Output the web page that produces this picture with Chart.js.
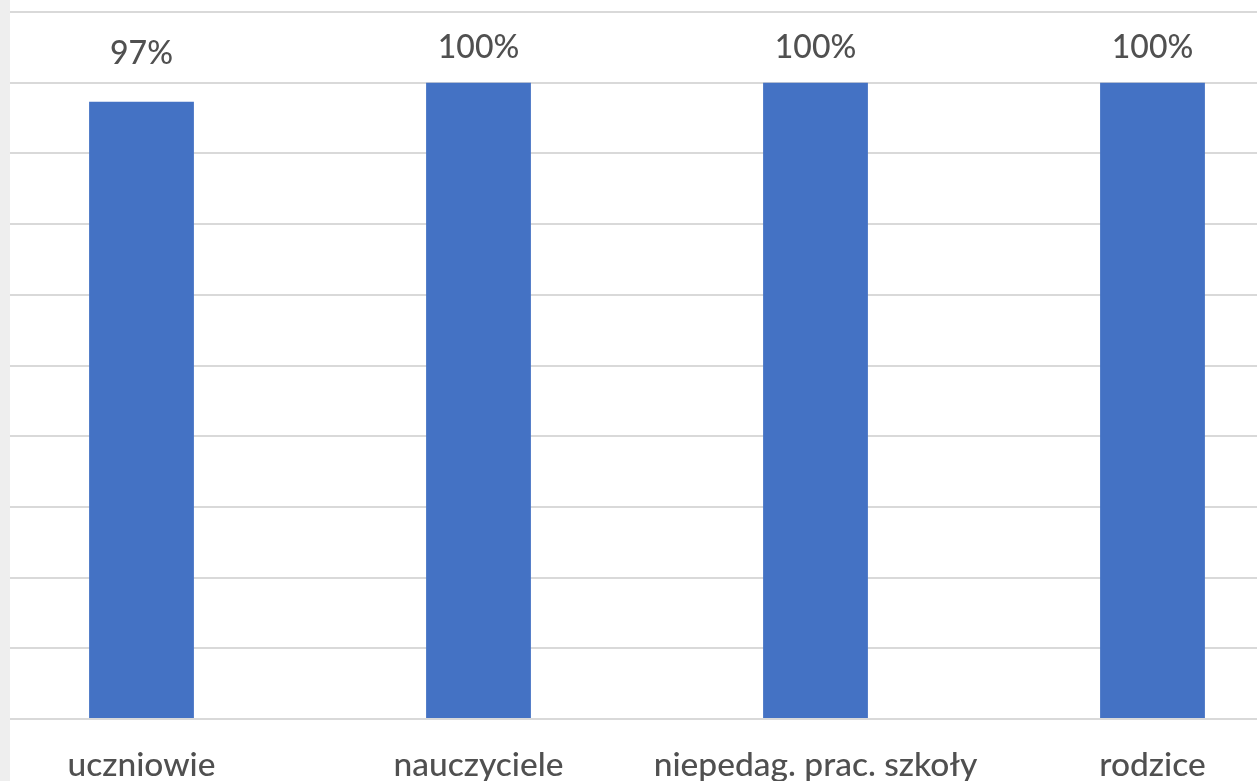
<!DOCTYPE html>
<html>
<head>
<meta charset="utf-8">
<script src="https://cdn.jsdelivr.net/npm/chart.js@4/dist/chart.umd.min.js"></script>
<style>
	html, body { margin: 0; padding: 0; background: #fff; overflow: hidden; }
	#strip { position: absolute; left: 0; top: 0; width: 10px; height: 781px; background: #eeeeee; }
	#wrap { position: absolute; left: 10px; top: 0; width: 1247px; height: 781px; overflow: hidden; background: #fff; }
	#c { position: absolute; left: -37px; top: 0; }
</style>
</head>
<body>
<div id="strip"></div>
<div id="wrap"><canvas id="c" width="1348" height="781"></canvas></div>
<script>
const categories = ["uczniowie", "nauczyciele", "niepedag. prac. szkoły", "rodzice"];
const values = [97, 100, 100, 100];
// axis runs 0 .. 111.1 with 10 gridline intervals (100% sits on the 9th line)
const axisMax = 1000 / 9;
const gridCount = 11;

const textColor = "#505050";
const fontFamily = "Lato, 'Open Sans', sans-serif";

// labels sit above the bar, but are kept from climbing into the top band
const valueLabels = {
	id: "valueLabels",
	afterDatasetsDraw(chart) {
		const { ctx, chartArea } = chart;
		const meta = chart.getDatasetMeta(0);
		ctx.save();
		ctx.fillStyle = textColor;
		ctx.font = `500 32px ${fontFamily}`;
		ctx.textAlign = "center";
		ctx.textBaseline = "alphabetic";
		meta.data.forEach((bar, i) => {
			const y = Math.max(bar.y - 38, chartArea.top + 46);
			ctx.fillText(`${values[i]}%`, bar.x, y);
		});
		ctx.restore();
	},
};

new Chart(document.getElementById("c"), {
	type: "bar",
	data: {
		labels: categories,
		datasets: [
			{
				data: values,
				backgroundColor: "#4472C4",
				borderWidth: 0,
				barPercentage: 0.311,
				categoryPercentage: 1,
			},
		],
	},
	options: {
		responsive: false,
		animation: false,
		devicePixelRatio: 1,
		layout: { padding: { top: 12, left: 0, right: 0, bottom: 0 } },
		plugins: {
			legend: { display: false },
			tooltip: { enabled: false },
		},
		scales: {
			x: {
				grid: { display: false },
				border: { display: false },
				ticks: {
					color: textColor,
					font: { family: fontFamily, size: 33.5, weight: "500" },
					padding: 18,
					maxRotation: 0,
					autoSkip: false,
				},
				afterFit: (s) => { s.height = 62; },
			},
			y: {
				min: 0,
				max: axisMax,
				ticks: { display: false, count: gridCount },
				grid: { color: "#d9d9d9", lineWidth: 2, drawTicks: false },
				border: { display: false },
				afterFit: (s) => { s.width = 0; },
			},
		},
	},
	plugins: [valueLabels],
});
</script>
</body>
</html>
